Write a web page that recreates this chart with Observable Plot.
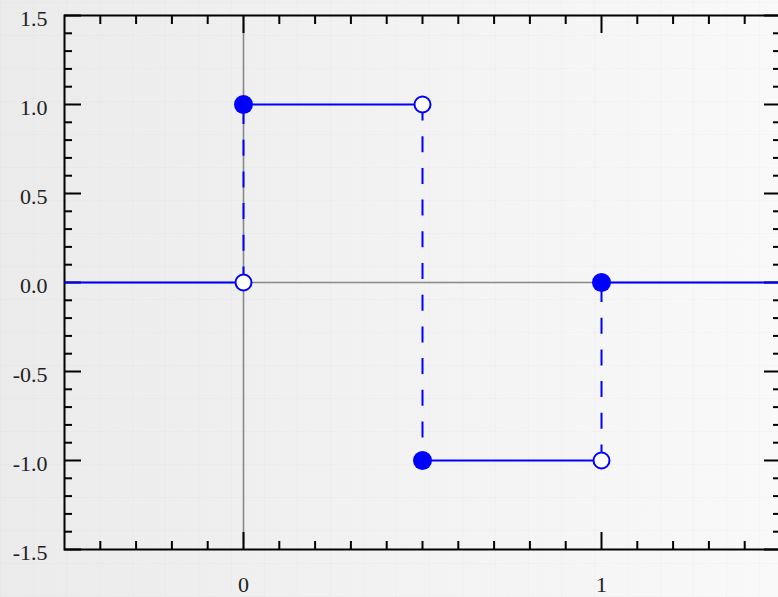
<!DOCTYPE html>
<html>
<head>
<meta charset="utf-8">
<script src="https://cdn.jsdelivr.net/npm/d3@7"></script>
<script src="https://cdn.jsdelivr.net/npm/@observablehq/plot@0.6"></script>
<style>
  html, body { margin: 0; padding: 0; }
  body {
    width: 778px; height: 597px; overflow: hidden;
    background:
      repeating-linear-gradient(90deg, rgba(0,0,0,0.015) 0 1px, transparent 1px 33px),
      repeating-linear-gradient(0deg, rgba(0,0,0,0.015) 0 1px, transparent 1px 33px),
      linear-gradient(90deg, #ebebeb 0%, #f2f2f2 50%, #f9f9f9 100%);
  }
  svg { background: transparent !important; display: block; }
</style>
</head>
<body>
<div id="chart"></div>
<script>
// Haar wavelet pieces
const segX1 = [-0.5, 0, 0.5, 1];
const segX2 = [0, 0.5, 1, 1.5];
const segY  = [0, 1, -1, 0];

const jumpX  = [0, 0.5, 1];
const jumpY1 = [0, 1, -1];
const jumpY2 = [1, -1, 0];

const filledX = [0, 0.5, 1];
const filledY = [1, -1, 0];
const openX = [0, 0.5, 1];
const openY = [0, 1, -1];

const xMinorTicks = [-0.4, -0.3, -0.2, -0.1, 0.1, 0.2, 0.3, 0.4, 0.5, 0.6, 0.7, 0.8, 0.9, 1.1, 1.2, 1.3, 1.4];
const xMajorTicks = [0, 1];
const xTickLabels = ["0", "1"];
const yMinorTicks = [-1.4, -1.3, -1.2, -1.1, -0.9, -0.8, -0.7, -0.6, -0.4, -0.3, -0.2, -0.1, 0.1, 0.2, 0.3, 0.4, 0.6, 0.7, 0.8, 0.9, 1.1, 1.2, 1.3, 1.4];
const yMajorTicks = [-1.5, -1.0, -0.5, 0, 0.5, 1.0, 1.5];
const yTickLabels = ["-1.5", "-1.0", "-0.5", "0.0", "0.5", "1.0", "1.5"];

const segs = segX1.map((x, i) => ({x1: x, x2: segX2[i], y: segY[i]}));
const jumps = jumpX.map((x, i) => ({x, y1: jumpY1[i], y2: jumpY2[i]}));
const filled = filledX.map((x, i) => ({x, y: filledY[i]}));
const open = openX.map((x, i) => ({x, y: openY[i]}));

const blue = "#0000ff";
const font = "'Liberation Serif', 'Times New Roman', serif";

const chart = Plot.plot({
  width: 778,
  height: 597,
  marginLeft: 64,
  marginRight: -2,
  marginTop: 15,
  marginBottom: 48,
  style: {fontFamily: font, fontSize: "22px", color: "#222", background: "transparent"},
  x: {domain: [-0.5, 1.5]},
  y: {domain: [-1.5, 1.5]},
  marks: [
    // zero lines
    Plot.ruleX([0], {stroke: "#888", strokeWidth: 1.6}),
    Plot.ruleY([0], {stroke: "#888", strokeWidth: 1.6}),
    // minor / major ticks pointing inward on all four sides
    Plot.axisX({anchor: "bottom", ticks: xMinorTicks, tickSize: -8, text: null, label: null, stroke: "black", strokeWidth: 2}),
    Plot.axisX({anchor: "bottom", ticks: xMajorTicks, tickSize: -17, text: null, label: null, stroke: "black", strokeWidth: 2}),
    Plot.axisX({anchor: "top", ticks: xMinorTicks, tickSize: -8, text: null, label: null, stroke: "black", strokeWidth: 2}),
    Plot.axisX({anchor: "top", ticks: xMajorTicks, tickSize: -17, text: null, label: null, stroke: "black", strokeWidth: 2}),
    Plot.axisY({anchor: "left", ticks: yMinorTicks, tickSize: -8, text: null, label: null, stroke: "black", strokeWidth: 2}),
    Plot.axisY({anchor: "left", ticks: yMajorTicks, tickSize: -17, text: null, label: null, stroke: "black", strokeWidth: 2}),
    Plot.axisY({anchor: "right", ticks: yMinorTicks, tickSize: -8, text: null, label: null, stroke: "black", strokeWidth: 2}),
    Plot.axisY({anchor: "right", ticks: yMajorTicks, tickSize: -17, text: null, label: null, stroke: "black", strokeWidth: 2}),
    // labels
    Plot.axisY({anchor: "left", ticks: yMajorTicks, tickFormat: (d, i) => yTickLabels[i], tickSize: 0, tickPadding: 17, dy: 3, label: null, fill: "#222", fontSize: 22, fontFamily: font}),
    Plot.axisX({anchor: "bottom", ticks: xMajorTicks, tickFormat: (d, i) => xTickLabels[i], tickSize: 0, tickPadding: 27, label: null, fill: "#222", fontSize: 22, fontFamily: font}),
    Plot.frame({stroke: "black", strokeWidth: 2}),
    // dashed jumps
    Plot.link(jumps, {x1: "x", x2: "x", y1: "y1", y2: "y2", stroke: blue, strokeWidth: 2, strokeDasharray: "16,15.7"}),
    // solid pieces
    Plot.link(segs, {x1: "x1", x2: "x2", y1: "y", y2: "y", stroke: blue, strokeWidth: 2}),
    // points
    Plot.dot(filled, {x: "x", y: "y", r: 9.5, fill: blue, stroke: "none"}),
    Plot.dot(open, {x: "x", y: "y", r: 8, fill: "white", stroke: blue, strokeWidth: 2})
  ]
});
document.getElementById("chart").appendChild(chart);
</script>
</body>
</html>
